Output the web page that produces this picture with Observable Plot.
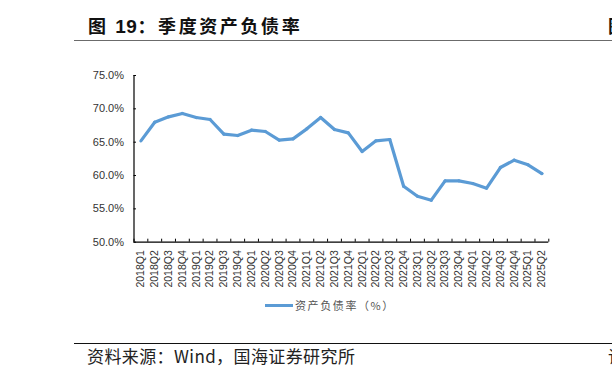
<!DOCTYPE html>
<html>
<head>
<meta charset="utf-8">
<script src="https://cdn.jsdelivr.net/npm/d3@7"></script>
<script src="https://cdn.jsdelivr.net/npm/@observablehq/plot@0.6"></script>
<style>
  html, body { margin: 0; padding: 0; background: #fff; overflow: hidden; }
  #wrap { position: relative; width: 612px; height: 379px; overflow: hidden; background: #fff; font-family: "Noto Sans CJK SC", "Liberation Sans", sans-serif; }
  .abs { position: absolute; white-space: nowrap; }
  #title { left: 88px; top: 12px; font-size: 18px; font-weight: bold; letter-spacing: 2.6px; color: #111; line-height: 26px; }
  #title .num { letter-spacing: 0.5px; font-family: "Liberation Sans", Arial, sans-serif; font-size: 19px; }
  #titleCut { left: 608px; top: 12px; font-size: 18px; font-weight: bold; color: #111; line-height: 26px; }
  #tline { left: 74px; top: 40px; width: 538px; height: 0; border-top: 1.6px solid #6b6b6b; }
  #chart { left: 0; top: 44px; }
  #legend { left: 265px; top: 297px; font-size: 11px; color: #555; letter-spacing: 1.6px; line-height: 16px; display: flex; align-items: center; }
  #legend .sw { width: 28px; height: 3px; background: #5B9BD5; margin-right: 2px; }
  #sline { left: 74px; top: 343px; width: 538px; height: 0; border-top: 1.3px solid #111; }
  #source { left: 87px; top: 344px; font-size: 17px; color: #222; letter-spacing: 0.4px; line-height: 24px; }
  #srcCut { left: 608px; top: 344px; font-size: 17px; color: #222; line-height: 24px; }
</style>
</head>
<body>
<div id="wrap">
  <div id="title" class="abs">图 <span class="num">19</span>：季度资产负债率</div>
  <div id="titleCut" class="abs">图</div>
  <div id="tline" class="abs"></div>
  <div id="chart" class="abs"></div>
  <div id="legend" class="abs"><span class="sw"></span><span>资产负债率（%）</span></div>
  <div id="sline" class="abs"></div>
  <div id="source" class="abs">资料来源：Wind，国海证券研究所</div>
  <div id="srcCut" class="abs">请</div>
</div>
<script>
const quarters = ["2018Q1","2018Q2","2018Q3","2018Q4","2019Q1","2019Q2","2019Q3","2019Q4",
  "2020Q1","2020Q2","2020Q3","2020Q4","2021Q1","2021Q2","2021Q3","2021Q4",
  "2022Q1","2022Q2","2022Q3","2022Q4","2023Q1","2023Q2","2023Q3","2023Q4",
  "2024Q1","2024Q2","2024Q3","2024Q4","2025Q1","2025Q2"];
const debtRatio = [65.2, 68.0, 68.8, 69.3, 68.7, 68.4, 66.2, 66.0,
  66.8, 66.6, 65.3, 65.5, 67.0, 68.7, 66.9, 66.4,
  63.6, 65.2, 65.4, 58.4, 56.9, 56.3, 59.2, 59.2,
  58.8, 58.1, 61.2, 62.3, 61.6, 60.3];
const yTicks = [50, 55, 60, 65, 70, 75];
const seriesName = "资产负债率（%）";

const rows = quarters.map((q, i) => ({i, q, v: debtRatio[i]}));
const idx = quarters.map((q, i) => i);
const bounds = quarters.map((q, i) => i - 0.5).concat([quarters.length - 0.5]);

const chart = Plot.plot({
  width: 612,
  height: 256,
  marginLeft: 133.5,
  marginRight: 63.7,
  marginTop: 31,
  marginBottom: 58.3,
  x: {type: "linear", domain: [-0.5, quarters.length - 0.5]},
  y: {domain: [50, 75]},
  style: {fontFamily: "'Liberation Sans', Arial, sans-serif", fontSize: "10.5px", color: "#333", background: "transparent", overflow: "visible"},
  marks: [
    Plot.axisY({ticks: yTicks, tickSize: 0, tickPadding: 10, tickFormat: d => d.toFixed(1) + "%", fontSize: 11, label: null, fill: "#333"}),
    Plot.axisX({ticks: idx, tickSize: 0, tickPadding: 8, tickRotate: -90, tickFormat: i => quarters[i], label: null, fill: "#333"}),
    Plot.ruleY(yTicks, {x1: -0.5, x2: -0.5 + 0.18, stroke: "#000", strokeWidth: 1}),
    Plot.ruleX(bounds, {y1: 50, y2: 50.45, stroke: "#000", strokeWidth: 1}),
    Plot.ruleX([-0.5], {stroke: "#000", strokeWidth: 1.2}),
    Plot.ruleY([50], {stroke: "#000", strokeWidth: 1.2}),
    Plot.line(rows, {x: "i", y: "v", stroke: "#5B9BD5", strokeWidth: 3.2, strokeLinejoin: "miter", title: d => `${d.q} ${seriesName}: ${d.v}`})
  ]
});
document.getElementById("chart").appendChild(chart);
</script>
</body>
</html>
